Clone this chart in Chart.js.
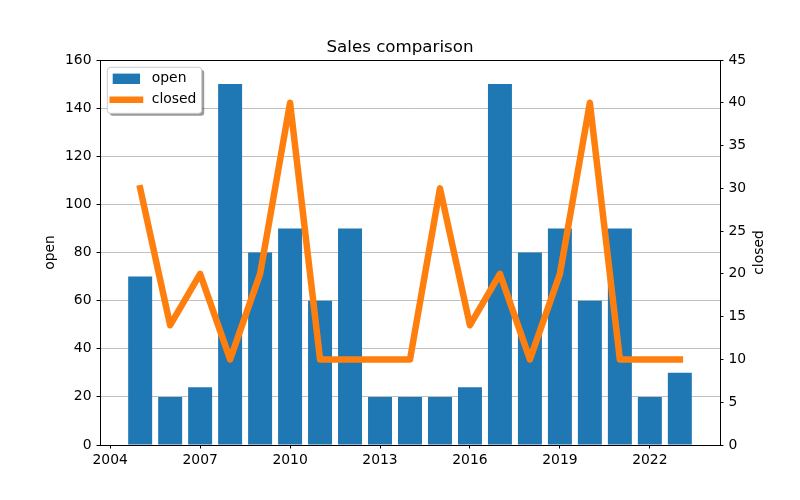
<!DOCTYPE html>
<html>
<head>
<meta charset="utf-8">
<script src="https://cdn.jsdelivr.net/npm/chart.js@4.4.0/dist/chart.umd.min.js"></script>
<style>
  html, body { margin: 0; padding: 0; background: #fff; }
  #wrap { width: 800px; height: 500px; }
</style>
</head>
<body>
<div id="wrap"><canvas id="myChart" width="800" height="500"></canvas></div>
<script>
// data
var years = [2005, 2006, 2007, 2008, 2009, 2010, 2011, 2012, 2013, 2014,
             2015, 2016, 2017, 2018, 2019, 2020, 2021, 2022, 2023];
var openValues = [70, 20, 24, 150, 80, 90, 60, 90, 20, 20,
                  20, 24, 150, 80, 90, 60, 90, 20, 30];
var closedValues = [30, 14, 20, 10, 20, 40, 10, 10, 10, 10,
                    30, 14, 20, 10, 20, 40, 10, 10, 10];
var xTicks = [2004, 2007, 2010, 2013, 2016, 2019, 2022];
var openTicks = [0, 20, 40, 60, 80, 100, 120, 140, 160];
var closedTicks = [0, 5, 10, 15, 20, 25, 30, 35, 40, 45];

var FONT = 'DejaVu Sans';
Chart.defaults.color = '#000';
Chart.defaults.font.family = FONT;

/**
 * matplotlib style frame, right axis label and legend box
 */
var mplExtras = {
  id: 'mplExtras',
  afterDatasetsDraw: function(chart) {
    var ctx = chart.ctx, a = chart.chartArea;
    ctx.save();
    ctx.strokeStyle = '#000';
    ctx.lineWidth = 1;
    ctx.strokeRect(Math.round(a.left) + 0.5, Math.round(a.top) + 0.5,
                   Math.round(a.right - a.left), Math.round(a.bottom - a.top));

    // right axis label, reads bottom to top like the left one
    ctx.translate(759, (a.top + a.bottom) / 2);
    ctx.rotate(-Math.PI / 2);
    ctx.font = '13.9px "' + FONT + '"';
    ctx.fillStyle = '#000';
    ctx.textAlign = 'center';
    ctx.textBaseline = 'middle';
    ctx.fillText(chart.options.scales.yR.labelText, 0, 0);
    ctx.restore();
  },
  afterDraw: function(chart) {
    var ctx = chart.ctx, a = chart.chartArea;
    var sets = chart.data.datasets;
    var x = a.left + 7.3, y = a.top + 7.3, w = 94.4, h = 46;

    ctx.save();
    // shadow
    roundRect(ctx, x + 2.5, y + 2.5, w, h, 3);
    ctx.fillStyle = 'rgba(0,0,0,0.4)';
    ctx.fill();
    // box
    roundRect(ctx, x, y, w, h, 3);
    ctx.fillStyle = '#fff';
    ctx.fill();
    ctx.strokeStyle = '#cccccc';
    ctx.lineWidth = 1;
    ctx.stroke();

    ctx.font = '13.9px "' + FONT + '"';
    ctx.textBaseline = 'middle';
    ctx.fillStyle = '#000';
    for (var i = 0; i < sets.length; i++) {
      var cy = y + 11.5 + i * 21;
      if (sets[i].type === 'line') {
        ctx.strokeStyle = sets[i].borderColor;
        ctx.lineWidth = sets[i].borderWidth;
        ctx.lineCap = 'square';
        ctx.beginPath();
        ctx.moveTo(x + 5.4, cy);
        ctx.lineTo(x + 32.7, cy);
        ctx.stroke();
      } else {
        ctx.fillStyle = sets[i].backgroundColor;
        ctx.fillRect(x + 5.4, cy - 5.2, 27.3, 10.4);
      }
      ctx.fillStyle = '#000';
      ctx.fillText(sets[i].label, x + 44.5, cy);
    }
    ctx.restore();
  }
};

function roundRect(ctx, x, y, w, h, r) {
  ctx.beginPath();
  ctx.moveTo(x + r, y);
  ctx.lineTo(x + w - r, y);
  ctx.quadraticCurveTo(x + w, y, x + w, y + r);
  ctx.lineTo(x + w, y + h - r);
  ctx.quadraticCurveTo(x + w, y + h, x + w - r, y + h);
  ctx.lineTo(x + r, y + h);
  ctx.quadraticCurveTo(x, y + h, x, y + h - r);
  ctx.lineTo(x, y + r);
  ctx.quadraticCurveTo(x, y, x + r, y);
  ctx.closePath();
}

function fixedTicks(list) {
  return function(scale) {
    scale.ticks = list.map(function(v) { return { value: v }; });
  };
}

var chartData = {
  datasets: [
    {
      type: 'bar',
      label: 'open',
      data: years.map(function(y, i) { return { x: y, y: openValues[i] }; }),
      backgroundColor: '#1f77b4',
      borderWidth: 0,
      inflateAmount: 0,
      barPercentage: 0.8,
      categoryPercentage: 1.0,
      yAxisID: 'y',
      order: 1
    },
    {
      type: 'line',
      label: 'closed',
      data: years.map(function(y, i) { return { x: y, y: closedValues[i] }; }),
      borderColor: '#ff7f0e',
      backgroundColor: '#ff7f0e',
      borderWidth: 6.5,
      borderCapStyle: 'square',
      borderJoinStyle: 'round',
      pointRadius: 0,
      tension: 0,
      yAxisID: 'yR',
      order: 0
    }
  ]
};

var element = document.getElementById('myChart').getContext('2d');
var myChart = new Chart(element, {
  type: 'bar',
  data: chartData,
  plugins: [mplExtras],
  options: {
    responsive: false,
    animation: false,
    layout: { padding: 0 },
    plugins: {
      legend: { display: false },
      tooltip: { enabled: false },
      title: {
        display: true,
        text: 'Sales comparison',
        color: '#000',
        font: { family: FONT, size: 16.7, weight: 'normal', lineHeight: 1.2 },
        padding: { top: 38, bottom: 1.96 }
      }
    },
    scales: {
      x: {
        type: 'linear',
        offset: false,
        min: 2003.66,
        max: 2024.34,
        afterBuildTicks: fixedTicks(xTicks),
        afterFit: function(scale) { scale.height = 55; },
        grid: { display: true, drawOnChartArea: false, offset: false,
                tickLength: 3.5, tickColor: '#000', tickWidth: 1 },
        border: { color: '#000', width: 1 },
        ticks: { font: { size: 13.9 }, padding: 4, maxRotation: 0,
                 callback: function(v) { return String(v); } }
      },
      y: {
        position: 'left',
        min: 0,
        max: 160,
        afterBuildTicks: fixedTicks(openTicks),
        afterFit: function(scale) { scale.width = 100; },
        grid: { color: '#b0b0b0', lineWidth: 0.8, tickLength: 3.5,
                tickColor: '#000', tickWidth: 1 },
        border: { color: '#000', width: 1 },
        ticks: { font: { size: 13.9 }, padding: 5 },
        title: { display: true, text: 'open', font: { size: 13.9 },
                 padding: { top: 42.5, bottom: 0 } }
      },
      yR: {
        position: 'right',
        min: 0,
        max: 45,
        labelText: 'closed',
        afterBuildTicks: fixedTicks(closedTicks),
        afterFit: function(scale) { scale.width = 80; },
        grid: { drawOnChartArea: false, tickLength: 3.5,
                tickColor: '#000', tickWidth: 1 },
        border: { color: '#000', width: 1 },
        ticks: { font: { size: 13.9 }, padding: 5 }
      }
    }
  }
});
</script>
</body>
</html>
